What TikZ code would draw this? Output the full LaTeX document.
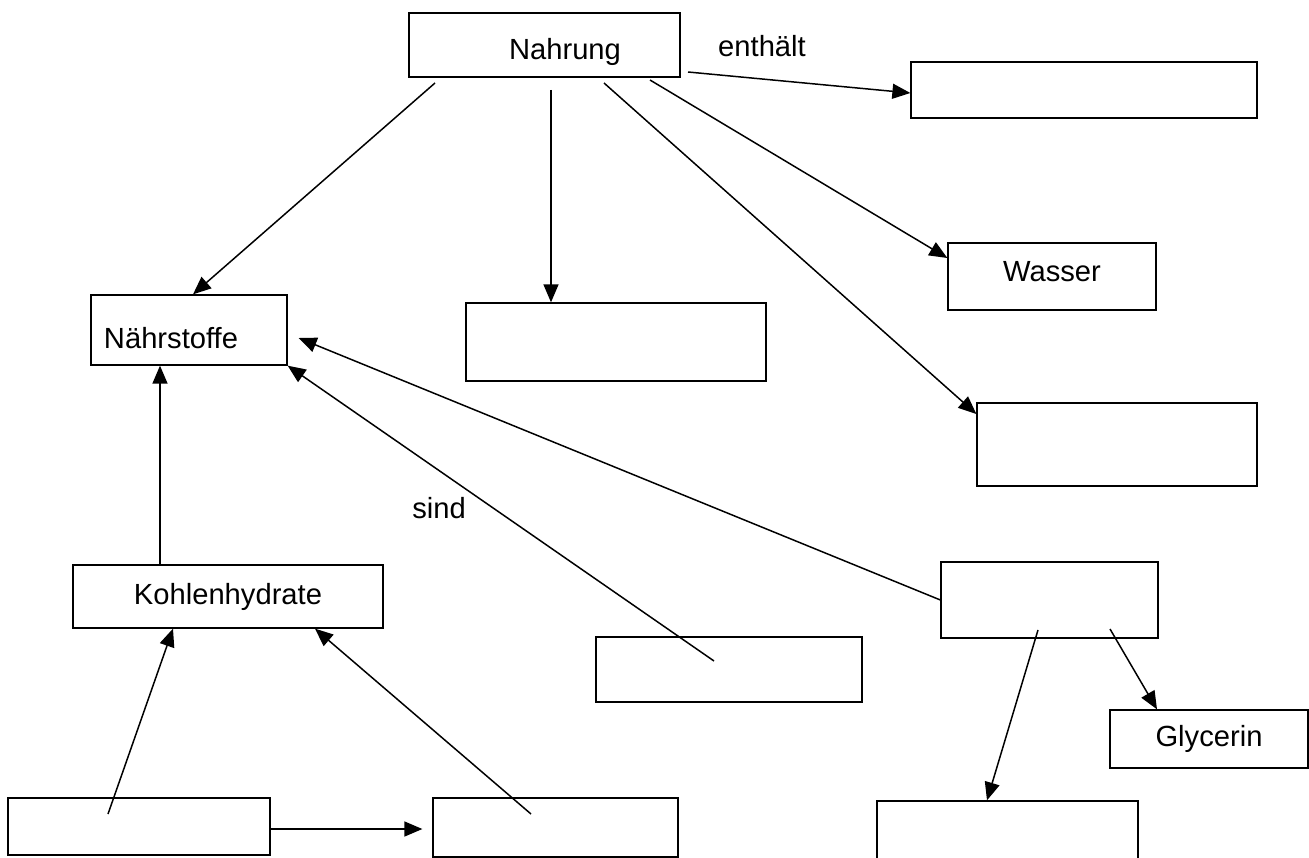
\documentclass[tikz,border=0pt]{standalone}
\usepackage{fontspec}
\setmainfont{Liberation Sans}
\usetikzlibrary{arrows.meta}

\begin{document}
\begin{tikzpicture}[%
      x=0.02cm, y=-0.02cm,
      box/.style={draw=black, line width=0.75pt, inner sep=0pt},
      arr/.style={draw=black, line width=0.85pt, -{Triangle[length=0.36cm,width=0.30cm]}},
      font=\fontsize{16.6pt}{20pt}\selectfont,
      ]
      \useasboundingbox (0,0) rectangle (1309,858);
      \clip (0,0) rectangle (1309,858);

      % boxes with text
      \node[box, minimum width=5.42cm, minimum height=1.28cm,
            label={[xshift=0.41cm, yshift=-0.14cm]center:Nahrung}] (nahrung) at (544.5,45) {};
      \node[box, minimum width=4.16cm, minimum height=1.34cm,
            label={[yshift=0.09cm]center:Wasser}] (wasser) at (1052,276.5) {};
      \node[box, minimum width=3.92cm, minimum height=1.40cm,
            label={[xshift=-0.36cm, yshift=-0.16cm]center:Nährstoffe}] (naehr) at (189,330) {};
      \node[box, minimum width=6.20cm, minimum height=1.26cm] (kohlen) at (228,596.5) {Kohlenhydrate};
      \node[box, minimum width=3.96cm, minimum height=1.16cm] (glyc) at (1209,739) {Glycerin};

      % empty boxes
      \node[box, minimum width=6.92cm, minimum height=1.12cm] (tr) at (1084,90) {};
      \node[box, minimum width=6.00cm, minimum height=1.56cm] (mid) at (616,342) {};
      \node[box, minimum width=5.60cm, minimum height=1.66cm] (r2) at (1117,444.5) {};
      \node[box, minimum width=4.34cm, minimum height=1.52cm] (fett) at (1049.5,600) {};
      \node[box, minimum width=5.32cm, minimum height=1.30cm] (sindbox) at (729,669.5) {};
      \node[box, minimum width=5.24cm, minimum height=1.14cm] (bl) at (139,826.5) {};
      \node[box, minimum width=4.90cm, minimum height=1.18cm] (bm) at (555.5,827.5) {};
      \node[box, minimum width=5.22cm, minimum height=1.58cm] (br) at (1007.5,840.5) {};

      % labels
      \node (lenth) at (762,46) {enthält};
      \node (lsind) at (439,508) {sind};

      % free ends
      \coordinate (s1) at (435,83);
      \coordinate (s2) at (551,90);
      \coordinate (s3) at (604,83);
      \coordinate (s4) at (650,80);
      \coordinate (s5) at (688,72);
      \coordinate (s7) at (714,661);
      \coordinate (s9) at (1038,630);
      \coordinate (s10) at (1110,629);
      \coordinate (s11) at (108,814);
      \coordinate (s12) at (531,814);

      \draw[arr] (s1) -- (193,0 |- naehr.north);
      \draw[arr] (s2) -- (551,0 |- mid.north);
      \draw[arr] (s3) -- (r2.west |- 0,414);
      \draw[arr] (s4) -- (wasser.west |- 0,258);
      \draw[arr] (s5) -- (tr.west |- 0,93);
      \draw[arr] (160,0 |- kohlen.north) -- (160,0 |- naehr.south);
      \draw[arr] (s7) -- (naehr.south east);
      \draw[arr] (fett.west) -- ([xshift=0.22cm, yshift=-0.16cm]naehr.east);
      \draw[arr] (s9) -- (987,0 |- br.north);
      \draw[arr] (s10) -- (1157,0 |- glyc.north);
      \draw[arr] (s11) -- (173,0 |- kohlen.south);
      \draw[arr] (s12) -- (315,0 |- kohlen.south);
      \draw[arr, shorten >=0.2cm] (bl.east |- 0,829) -- (bm.west |- 0,829);
      \end{tikzpicture}
\end{document}
